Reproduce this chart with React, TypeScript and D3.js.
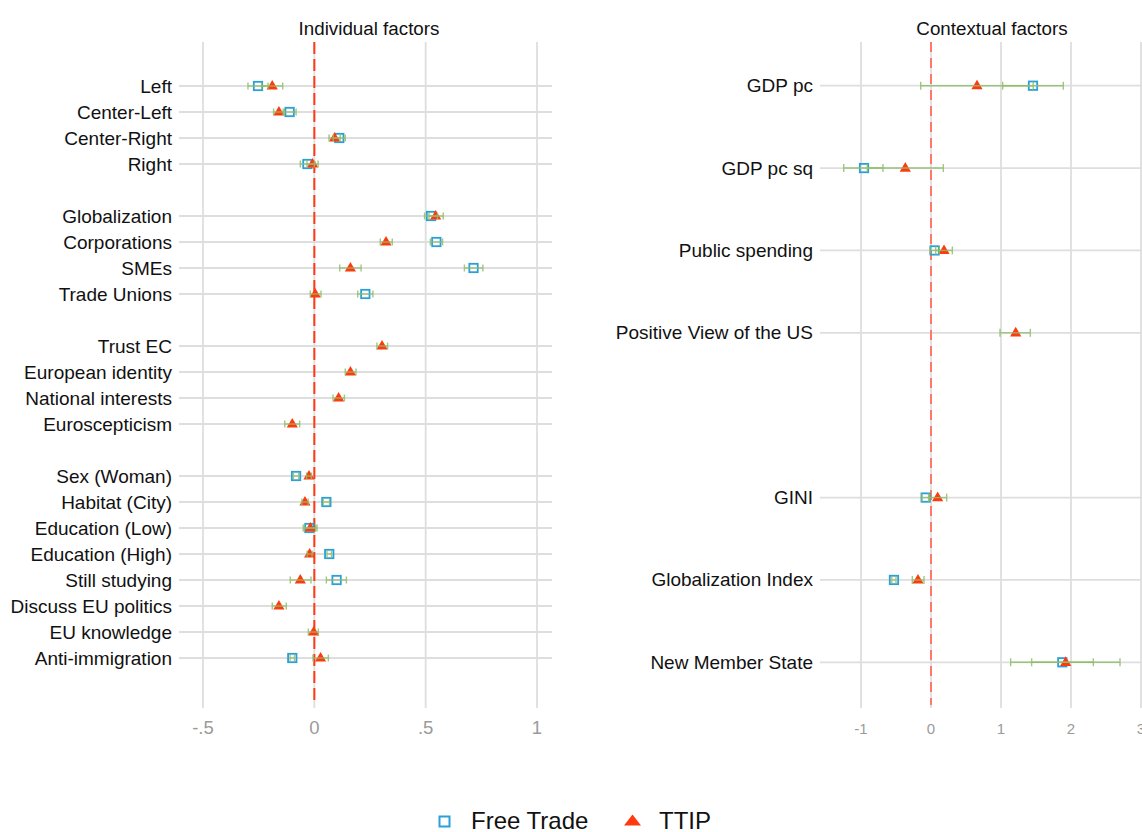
import React from "react";
import * as d3 from "d3";

// ---------- Data ----------
const leftLabels: (string | null)[] = [
  "Left", "Center-Left", "Center-Right", "Right", null,
  "Globalization", "Corporations", "SMEs", "Trade Unions", null,
  "Trust EC", "European identity", "National interests", "Euroscepticism", null,
  "Sex (Woman)", "Habitat (City)", "Education (Low)", "Education (High)",
  "Still studying", "Discuss EU politics", "EU knowledge", "Anti-immigration",
];

// Free Trade model: [estimate, lower, upper]
const leftFreeTrade: ([number, number, number] | null)[] = [
  [-0.253, -0.298, -0.208], [-0.111, -0.14, -0.082], [0.112, 0.085, 0.139], [-0.031, -0.063, 0.0], null,
  [0.524, 0.495, 0.553], [0.548, 0.521, 0.576], [0.715, 0.674, 0.757], [0.229, 0.195, 0.263], null,
  null, null, null, null, null,
  [-0.082, -0.094, -0.07], [0.054, 0.04, 0.068], [-0.022, -0.05, 0.006], [0.067, 0.057, 0.077],
  [0.1, 0.054, 0.144], null, null, [-0.099, -0.109, -0.089],
];

// TTIP model: [estimate, lower, upper]
const leftTTIP: ([number, number, number] | null)[] = [
  [-0.189, -0.236, -0.142], [-0.159, -0.183, -0.135], [0.091, 0.066, 0.116], [-0.008, -0.033, 0.017], null,
  [0.545, 0.515, 0.579], [0.322, 0.296, 0.35], [0.162, 0.114, 0.21], [0.004, -0.018, 0.03], null,
  [0.304, 0.281, 0.329], [0.162, 0.139, 0.187], [0.109, 0.084, 0.135], [-0.099, -0.133, -0.066], null,
  [-0.024, -0.035, -0.013], [-0.042, -0.056, -0.028], [-0.018, -0.045, 0.012], [-0.021, -0.032, -0.01],
  [-0.063, -0.108, -0.015], [-0.159, -0.189, -0.126], [-0.003, -0.027, 0.018], [0.028, -0.006, 0.063],
];

const rightLabels: (string | null)[] = [
  "GDP pc", "GDP pc sq", "Public spending", "Positive View of the US", null,
  "GINI", "Globalization Index", "New Member State",
];

const rightFreeTrade: ([number, number, number] | null)[] = [
  [1.457, 1.024, 1.89], [-0.957, -1.247, -0.686], [0.052, -0.014, 0.118], null, null,
  [-0.076, -0.13, -0.022], [-0.529, -0.56, -0.5], [1.876, 1.438, 2.319],
];

const rightTTIP: ([number, number, number] | null)[] = [
  [0.657, -0.147, 1.46], [-0.367, -0.91, 0.176], [0.186, 0.067, 0.305], [1.21, 0.986, 1.419], null,
  [0.095, -0.034, 0.224], [-0.186, -0.267, -0.1], [1.924, 1.138, 2.7],
];

const leftTickValues = [-0.5, 0, 0.5, 1];
const leftTickLabels = ["-.5", "0", ".5", "1"];
const rightTickValues = [-1, 0, 1, 2, 3];
const rightTickLabels = ["-1", "0", "1", "2", "3"];

const seriesNames = ["Free Trade", "TTIP"];

// ---------- Styles ----------
const FONT = "'Liberation Sans', Arial, Helvetica, sans-serif";
const GRID = "#dedede";
const ERR = "#8fbf6a";
const BLUE = "#2a9fd8";
const RED = "#ff3a0f";

function triPath(cx: number, cy: number) {
  return `M${cx},${cy - 6} L${cx + 5.6},${cy + 3.6} L${cx - 5.6},${cy + 3.6} Z`;
}

type Est = [number, number, number] | null;

interface PanelProps {
  labels: (string | null)[];
  ft: Est[];
  tt: Est[];
  x: d3.ScaleLinear<number, number>;
  y: d3.ScaleLinear<number, number>;
  gx0: number;
  gx1: number;
  tickValues: number[];
  tickLabels: string[];
  tickSize: number;
  labelX: number;
  title: string;
  titleX: number;
  zeroColor: string;
  dash: string;
  cap: number;
}

function Panel(p: PanelProps) {
  const top = 42;
  const bottom = 708;
  return (
    <g>
      <text x={p.titleX} y={35} textAnchor="middle" fontSize={18.8} fontFamily={FONT} fill="#111">
        {p.title}
      </text>
      {p.tickValues.map((v) => (
        <line key={"v" + v} x1={p.x(v)} x2={p.x(v)} y1={top} y2={bottom} stroke={GRID} strokeWidth={1.8} />
      ))}
      {p.labels.map((l, i) =>
        l ? (
          <g key={"h" + i}>
            <line x1={p.gx0} x2={p.gx1} y1={p.y(i)} y2={p.y(i)} stroke={GRID} strokeWidth={1.8} />
            <text x={p.labelX} y={p.y(i) + 6.5} textAnchor="end" fontSize={19} fontFamily={FONT} fill="#111">
              {l}
            </text>
          </g>
        ) : null
      )}
      <line x1={p.x(0)} x2={p.x(0)} y1={top} y2={705} stroke={p.zeroColor} strokeWidth={2} strokeDasharray={p.dash} />
      {p.tickValues.map((v, i) => (
        <text key={"t" + v} x={p.x(v)} y={734} textAnchor="middle" fontSize={p.tickSize} fontFamily={FONT} fill="#9a9a9a">
          {p.tickLabels[i]}
        </text>
      ))}
      {/* markers */}
      {p.ft.map((d, i) =>
        d ? (
          <rect key={"s" + i} x={p.x(d[0]) - 4.2} y={p.y(i) - 4.2} width={8.4} height={8.4} fill="none" stroke={BLUE} strokeWidth={1.8} />
        ) : null
      )}
      {p.tt.map((d, i) => (d ? <path key={"r" + i} d={triPath(p.x(d[0]), p.y(i))} fill={RED} /> : null))}
      {/* error bars */}
      {[p.ft, p.tt].map((series, si) =>
        series.map((d, i) =>
          d ? (
            <g key={"e" + si + "-" + i} stroke={ERR} strokeWidth={1.4} opacity={0.85}>
              <line x1={p.x(d[1])} x2={p.x(d[2])} y1={p.y(i)} y2={p.y(i)} />
              <line x1={p.x(d[1])} x2={p.x(d[1])} y1={p.y(i) - p.cap} y2={p.y(i) + p.cap} />
              <line x1={p.x(d[2])} x2={p.x(d[2])} y1={p.y(i) - p.cap} y2={p.y(i) + p.cap} />
            </g>
          ) : null
        )
      )}
    </g>
  );
}

export default function App() {
  const W = 1142;
  const H = 832;

  const xL = d3.scaleLinear().domain([-0.5, 1]).range([203, 537]);
  const yL = d3.scaleLinear().domain([0, leftLabels.length - 1]).range([86, 658]);
  const xR = d3.scaleLinear().domain([-1, 3]).range([861, 1141]);
  const yR = d3.scaleLinear().domain([0, rightLabels.length - 1]).range([85.7, 662.3]);

  return (
    <svg
      width={W}
      height={H}
      style={{ position: "absolute", left: 0, top: 0, background: "#fff" }}
      xmlns="http://www.w3.org/2000/svg"
    >
      <rect x={0} y={0} width={W} height={H} fill="#fff" />
      <Panel
        labels={leftLabels}
        ft={leftFreeTrade}
        tt={leftTTIP}
        x={xL}
        y={yL}
        gx0={179}
        gx1={552}
        tickValues={leftTickValues}
        tickLabels={leftTickLabels}
        tickSize={18.5}
        labelX={172}
        title="Individual factors"
        titleX={369}
        zeroColor="#ff3a14"
        dash="12,5"
        cap={3.5}
      />
      <Panel
        labels={rightLabels}
        ft={rightFreeTrade}
        tt={rightTTIP}
        x={xR}
        y={yR}
        gx0={820}
        gx1={1150}
        tickValues={rightTickValues}
        tickLabels={rightTickLabels}
        tickSize={15}
        labelX={813}
        title="Contextual factors"
        titleX={992}
        zeroColor="#ff7a6a"
        dash="10,6"
        cap={4}
      />
      {/* legend */}
      <rect x={439.5} y={816.5} width={10} height={10} fill="none" stroke={BLUE} strokeWidth={2} />
      <text x={471} y={828.5} fontSize={24} fontFamily={FONT} fill="#111">{seriesNames[0]}</text>
      <path d={`M${632.5},814.5 L${641},825.5 L${624},825.5 Z`} fill={RED} />
      <text x={659} y={828.5} fontSize={24} fontFamily={FONT} fill="#111">{seriesNames[1]}</text>
    </svg>
  );
}
